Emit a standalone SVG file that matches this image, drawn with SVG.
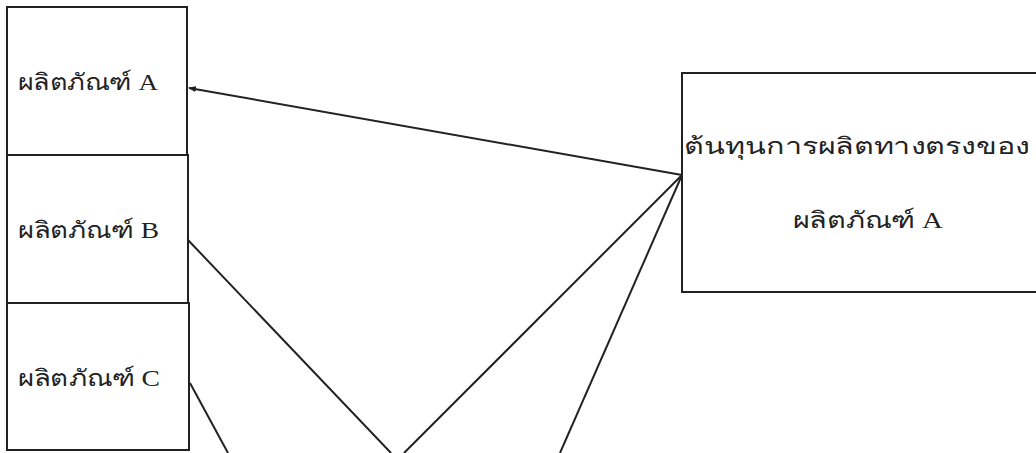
<svg xmlns="http://www.w3.org/2000/svg" width="1036" height="453" viewBox="0 0 1036 453">
<style>
.box{fill:none;stroke:#222;stroke-width:2}
.ln{fill:none;stroke:#222;stroke-width:2}
.t{font-family:"Liberation Serif","DejaVu Serif","Noto Sans",serif;font-size:23px;fill:#222}
</style>
<defs>
<marker id="arr" markerWidth="8" markerHeight="6" refX="7" refY="3" orient="auto" markerUnits="userSpaceOnUse">
<path d="M0,0 L8,3 L0,6 Z" fill="#222"/>
</marker>
</defs>
<rect width="1036" height="453" fill="#fff"/>
<g id="nodeA">
<rect class="box" x="7" y="7" width="180" height="148"/>
<text class="t" x="18" y="90" textLength="140" lengthAdjust="spacingAndGlyphs">ผลิตภัณฑ์ A</text>
</g>
<g id="nodeB">
<rect class="box" x="7" y="155" width="181" height="148"/>
<text class="t" x="18" y="238" textLength="141" lengthAdjust="spacingAndGlyphs">ผลิตภัณฑ์ B</text>
</g>
<g id="nodeC">
<rect class="box" x="7" y="303" width="182" height="147"/>
<text class="t" x="18" y="386" textLength="142" lengthAdjust="spacingAndGlyphs">ผลิตภัณฑ์ C</text>
</g>
<g id="nodeCost">
<path class="box" d="M1036,73 L682,73 L682,292 L1036,292"/>
<text class="t" x="684" y="154" textLength="346" lengthAdjust="spacingAndGlyphs">ต้นทุนการผลิตทางตรงของ</text>
<text class="t" x="793" y="228" textLength="150" lengthAdjust="spacingAndGlyphs">ผลิตภัณฑ์ A</text>
</g>
<g id="connectors">
<line class="ln" x1="682" y1="175" x2="189" y2="88" marker-end="url(#arr)"/>
<line class="ln" x1="188" y1="240" x2="391" y2="453"/>
<line class="ln" x1="682" y1="175" x2="404" y2="453"/>
<line class="ln" x1="682" y1="175" x2="560" y2="453"/>
<line class="ln" x1="190" y1="383" x2="228" y2="453"/>
</g>
</svg>
